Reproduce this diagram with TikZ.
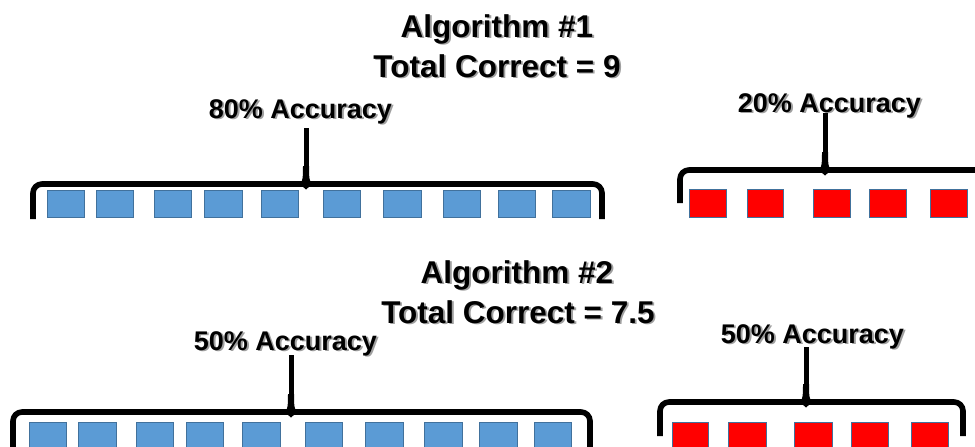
\documentclass[tikz,border=0pt]{standalone}
\usepackage{fontspec}
\setmainfont{Liberation Sans}
\definecolor{sqblue}{HTML}{5B9BD5}
\definecolor{sqedge}{HTML}{41719C}
\definecolor{sqred}{HTML}{FF0000}
\definecolor{shade}{HTML}{A0A0A0}
\tikzset{
  bsq/.style={draw=sqedge, fill=sqblue, line width=0.8pt, inner sep=0pt},
  rsq/.style={draw=sqedge, fill=sqred, line width=0.8pt, inner sep=0pt},
  bracestyle/.style={line width=5.6pt, line cap=butt, line join=round},
  titletext/.style={font=\fontsize{31.5}{31.5}\selectfont\bfseries, anchor=base, inner sep=0pt},
  acctext/.style={font=\fontsize{27}{27}\selectfont\bfseries, anchor=base, inner sep=0pt},
}
% square: name, x1, x2, y1, y2, style
\newcommand\mysq[6]{\node[#6, minimum width={#3-#2}, minimum height={#5-#4}] (#1) at ({(#2+#3)/2},{(#4+#5)/2}) {};}
% shadowed text (one node): name, x, y, style, text
\newcommand\shtext[5]{%
  \node[#4] (#1) at (#2,#3) {\rlap{\kern1.8pt\raisebox{-1.8pt}{\textcolor{shade}{#5}}}#5};}
% brace: name, x0, x1, yh, yb, xt, ytop
\newcommand\mybrace[7]{%
  \coordinate (#1l) at (#2,#5);
  \coordinate (#1lc) at (#2,#4);
  \coordinate (#1rc) at (#3,#4);
  \coordinate (#1r) at (#3,#5);
  \coordinate (#1t) at (#6,#7);
  \coordinate (#1b) at (#6,#4);
  \draw[bracestyle, rounded corners=9pt] (#1l) -- (#1lc) -- (#1rc) -- (#1r);
  \fill (#6-11,#4+0.5) .. controls (#6-3,#4+0.5) and (#6-3,#4-4) .. (#6-3,#4-18)
        -- (#6+3,#4-18) .. controls (#6+3,#4-4) and (#6+3,#4+0.5) .. (#6+11,#4+0.5) -- cycle;
  \fill (#6-4,#4+2) -- (#6,#4+5.5) -- (#6+4,#4+2) -- cycle;
  \draw[line width=5pt] (#1b) -- (#1t);}
\begin{document}
\begin{tikzpicture}[x=1pt,y=-1pt]
\useasboundingbox (0,0) rectangle (975,447);
\clip (0,0) rectangle (975,447);
% titles
\shtext{a1}{497}{37}{titletext}{Algorithm \#1}
\shtext{c1}{497}{77}{titletext}{Total Correct = 9}
\shtext{a2}{517}{283}{titletext}{Algorithm \#2}
\shtext{c2}{518}{323}{titletext}{Total Correct = 7.5}
% accuracy labels
\shtext{acc1}{300.5}{118}{acctext}{80\% Accuracy}
\shtext{acc2}{829.5}{112}{acctext}{20\% Accuracy}
\shtext{acc3}{285.5}{350}{acctext}{50\% Accuracy}
\shtext{acc4}{812.5}{343}{acctext}{50\% Accuracy}
% braces
\mybrace{br1}{33}{602}{184}{219}{306}{128}
\mybrace{br2}{680}{990}{170}{203}{825}{113}
\mybrace{br3}{13}{590}{412}{470}{291}{355}
\mybrace{br4}{660}{963}{402}{436}{806}{347}
% top-left blue squares
\mysq{t1}{47}{84}{190}{217}{bsq}
\mysq{t2}{96}{133}{190}{217}{bsq}
\mysq{t3}{154}{191}{190}{217}{bsq}
\mysq{t4}{204}{242}{190}{217}{bsq}
\mysq{t5}{261}{298}{190}{217}{bsq}
\mysq{t6}{323}{360}{190}{217}{bsq}
\mysq{t7}{383}{421}{190}{217}{bsq}
\mysq{t8}{443}{480}{190}{217}{bsq}
\mysq{t9}{498}{535}{190}{217}{bsq}
\mysq{t10}{552}{590}{190}{217}{bsq}
% top-right red squares
\mysq{u1}{689}{726}{189}{217}{rsq}
\mysq{u2}{747}{783}{189}{217}{rsq}
\mysq{u3}{813}{850}{189}{217}{rsq}
\mysq{u4}{869}{906}{189}{217}{rsq}
\mysq{u5}{930}{967}{189}{217}{rsq}
% bottom-left blue squares
\mysq{v1}{29}{66}{422}{450}{bsq}
\mysq{v2}{78}{116}{422}{450}{bsq}
\mysq{v3}{136}{173}{422}{450}{bsq}
\mysq{v4}{186}{223}{422}{450}{bsq}
\mysq{v5}{242}{280}{422}{450}{bsq}
\mysq{v6}{305}{342}{422}{450}{bsq}
\mysq{v7}{365}{403}{422}{450}{bsq}
\mysq{v8}{424}{462}{422}{450}{bsq}
\mysq{v9}{479}{517}{422}{450}{bsq}
\mysq{v10}{534}{571}{422}{450}{bsq}
% bottom-right red squares
\mysq{w1}{672}{708}{422}{450}{rsq}
\mysq{w2}{728}{766}{422}{450}{rsq}
\mysq{w3}{794}{832}{422}{450}{rsq}
\mysq{w4}{851}{888}{422}{450}{rsq}
\mysq{w5}{911}{948}{422}{450}{rsq}
\end{tikzpicture}
\end{document}
